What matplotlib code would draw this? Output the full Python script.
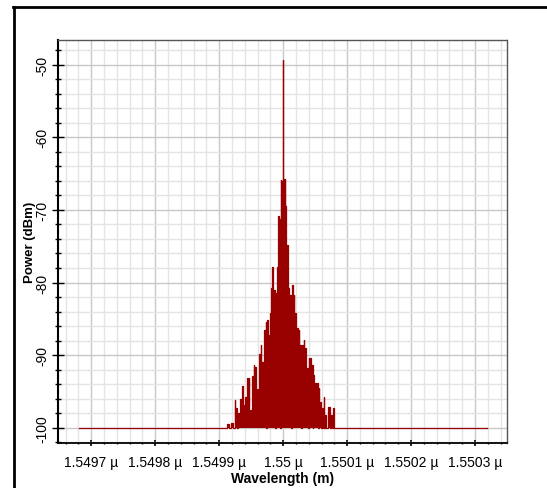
import matplotlib
matplotlib.use("Agg")
import matplotlib.pyplot as plt
from matplotlib.ticker import FixedLocator, MultipleLocator, FuncFormatter
from matplotlib.lines import Line2D

plt.rcParams['font.family'] = ['Liberation Sans', 'DejaVu Sans']
plt.rcParams['axes.unicode_minus'] = False

# spectrum: offset from 1550 nm in pm, power in dBm
offset_pm = [-319, -88, -86, -82, -80, -77, -75, -74, -72.7, -71, -69, -67.5, -66.4,
             -65, -63.8, -62.5, -61.3, -60, -58.1, -57, -55.9, -54.5, -53.4, -52,
             -50.8, -49.5, -48.1, -47, -45.6, -44.5, -42.5, -41, -39.8, -38.5,
             -37.2, -36, -34.7, -33.5, -32, -31, -29.4, -28, -26.9, -26, -24.2,
             -23, -22.2, -21, -19.5, -18.7, -18, -17.2, -16.4, -15, -13.8, -12.5,
             -11.3, -10, -9.1, -8, -6.6, -5.8, -5, -4.2, -3.4, -2.5, -1.25, -0.5,
             0, 0.5, 1.3, 2, 2.6, 3.3, 3.9, 5, 6.5, 7.5, 9.1, 10.3, 11.7, 12.8,
             14.3, 15.5, 16.9, 18, 19.5, 20.8, 22.1, 23.4, 24.7, 26, 27.3, 28.6,
             29.9, 31.2, 32.5, 33.8, 35.2, 36.5, 37.8, 39, 40.4, 41.7, 43, 44.3,
             45.6, 46.8, 48.1, 49.5, 50.8, 52, 53.4, 54.7, 56, 57.3, 58.6, 60,
             61.3, 62.5, 63.8, 65, 66.4, 68, 73.1, 74.4, 75.8, 77, 79.4, 80.5, 319]
power_dbm = [-100, -100, -99.5, -100, -99.4, -100, -96.2, -99.5, -97.3, -100, -98, -99.5, -96,
             -99, -94.3, -98.5, -96.8, -99.5, -95.8, -98, -93.2, -97, -93.2, -99.8,
             -97.5, -99, -92.9, -97, -91.4, -96, -91.6, -97.5, -94.6, -96,
             -89.8, -95, -88.6, -94, -91, -96, -86.5, -92, -85.4, -100, -85.2,
             -93, -87.2, -92, -84.2, -88, -80.8, -86, -77.8, -88, -81, -100,
             -81.5, -90, -77.8, -86, -70.9, -82, -71.2, -100, -65.9, -74, -66, -70,
             -49.3, -68, -65.7, -88, -65.7, -75, -69.4, -84, -74.9, -93, -80.8, -90, -81.7, -100,
             -80.4, -88, -81.7, -92, -84.2, -90, -86.3, -93, -86.5, -94, -88.6, -100,
             -88.6, -94, -87.9, -95, -89, -96, -91.8, -100, -90.4, -95, -90.4, -97,
             -91.3, -100, -92.7, -97, -93.8, -99, -93.8, -100, -94.5, -98, -96.4, -100,
             -97.3, -100, -95.7, -100, -98.2, -100, -97.1, -100, -98.2, -100, -97.3, -100, -100]

xticks_um = [1.5497, 1.5498, 1.5499, 1.55, 1.5501, 1.5502, 1.5503]
yticks = [-100, -90, -80, -70, -60, -50]

wl = [1.55e-6 + o * 1e-12 for o in offset_pm]
red = '#990000'

fig = plt.figure(figsize=(5.47, 4.89), dpi=100)
ax = fig.add_axes([58 / 547, 45 / 489, 449 / 547, 403 / 489])

ax.fill_between(wl, power_dbm, -100, step='mid', color=red, lw=0, zorder=3)
ax.plot(wl, power_dbm, drawstyle='steps-mid', color=red, lw=0.9, zorder=3)

ax.set_xlim(1.549648e-6, 1.55035e-6)
ax.set_ylim(-102.1, -46.6)

ax.xaxis.set_major_locator(FixedLocator([t * 1e-6 for t in xticks_um]))
ax.xaxis.set_minor_locator(MultipleLocator(0.00002e-6))
ax.xaxis.set_major_formatter(FuncFormatter(lambda v, p: f"{round(v * 1e6, 5):g} µ"))
ax.yaxis.set_major_locator(FixedLocator(yticks))
ax.yaxis.set_minor_locator(MultipleLocator(2))

ax.grid(which='major', color='#c8c8c8', lw=1.0, zorder=0)
ax.grid(which='minor', color='#e4e4e4', lw=1.0, zorder=0)
ax.set_axisbelow(True)

ax.tick_params(axis='y', which='major', direction='inout', length=8, width=1, labelsize=10,
               labelrotation=90, pad=2)
ax.tick_params(axis='y', which='minor', direction='inout', length=5, width=1)
ax.tick_params(axis='x', which='major', direction='inout', length=4, width=1.2, labelsize=10, pad=7)
ax.tick_params(axis='x', which='minor', direction='inout', length=2, width=1)
for lab in ax.get_yticklabels():
    lab.set_va('center')

ax.spines['left'].set_linewidth(1.5)
ax.spines['bottom'].set_linestyle((0, (1, 1)))
ax.spines['bottom'].set_linewidth(1.3)
for s in ('top', 'right'):
    ax.spines[s].set_linestyle((0, (1, 1)))
    ax.spines[s].set_color('#555555')
    ax.spines[s].set_linewidth(1)

ax.set_xlabel("Wavelength (m)", fontsize=10, fontweight='bold', labelpad=1)
ax.set_ylabel("Power (dBm)", fontsize=9.5, fontweight='bold', labelpad=0)

# outer frame
fig.add_artist(Line2D([13 / 547, 1.0], [1 - 8 / 489, 1 - 8 / 489], color='black', lw=2,
                      transform=fig.transFigure))
fig.add_artist(Line2D([14 / 547, 14 / 547], [0, 1 - 8 / 489], color='black', lw=2,
                      transform=fig.transFigure))

fig.savefig('out.png', dpi=100)
